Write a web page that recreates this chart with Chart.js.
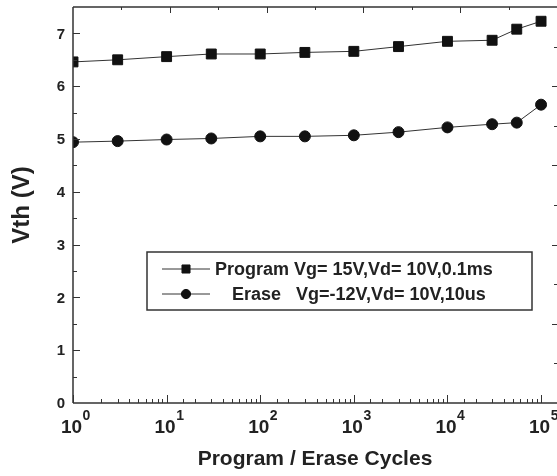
<!DOCTYPE html>
<html>
<head>
<meta charset="utf-8">
<script src="https://cdn.jsdelivr.net/npm/chart.js@4.4.1/dist/chart.umd.min.js"></script>
<style>
  html, body { margin: 0; padding: 0; background: #fff; }
  #wrap { width: 557px; height: 476px; }
</style>
</head>
<body>
<div id="wrap"><canvas id="vthChart"></canvas></div>
<script>
// DATA
const cycles = [1, 3, 10, 30, 100, 300, 1000, 3000, 10000, 30000, 55000, 100000];
const programVth = [6.46, 6.50, 6.56, 6.61, 6.61, 6.64, 6.66, 6.75, 6.85, 6.87, 7.08, 7.23];
const eraseVth = [4.94, 4.96, 4.99, 5.01, 5.05, 5.05, 5.07, 5.13, 5.22, 5.28, 5.31, 5.65];
const seriesLabels = ['Program Vg= 15V,Vd= 10V,0.1ms', 'Erase   Vg=-12V,Vd= 10V,10us'];
const yTickLabels = [0, 1, 2, 3, 4, 5, 6, 7];
const xTickExponents = [0, 1, 2, 3, 4, 5];

const FONT = "'Liberation Sans', Arial, sans-serif";
const INK = '#222';
const AXIS = '#333';

// axis frame + inward ticks + tick labels
const frameTicks = {
  id: 'frameTicks',
  afterDraw(chart) {
    const ctx = chart.ctx;
    const a = chart.chartArea;
    const x = chart.scales.x, x2 = chart.scales.x2;
    const y = chart.scales.y, y2 = chart.scales.y2;
    ctx.save();
    ctx.strokeStyle = AXIS;
    ctx.lineWidth = 1.5;
    ctx.beginPath();
    ctx.moveTo(a.left, a.top); ctx.lineTo(a.left, a.bottom);
    ctx.moveTo(a.left, a.bottom); ctx.lineTo(a.right, a.bottom);
    ctx.moveTo(a.left, a.top); ctx.lineTo(a.right, a.top);
    ctx.stroke();

    ctx.lineWidth = 1;
    ctx.beginPath();
    // bottom (log) ticks
    x.ticks.forEach(t => {
      const lg = Math.log10(t.value);
      if (t.value > x.max) return;
      const major = Math.abs(lg - Math.round(lg)) < 1e-9;
      const px = Math.round(x.getPixelForValue(t.value)) + 0.5;
      ctx.moveTo(px, a.bottom);
      ctx.lineTo(px, a.bottom - (major ? 8 : 4));
    });
    // top ticks
    for (let v = 0.5; v < x2.max; v += 0.5) {
      const major = Number.isInteger(v);
      const px = Math.round(x2.getPixelForValue(v)) + 0.5;
      ctx.moveTo(px, a.top);
      ctx.lineTo(px, a.top + (major ? 6 : 3));
    }
    // left ticks (major on labels, minor halfway)
    for (let v = 0.5; v < y.max; v += 0.5) {
      const major = Number.isInteger(v);
      const py = Math.round(y.getPixelForValue(v)) + 0.5;
      ctx.moveTo(a.left, py);
      ctx.lineTo(a.left + (major ? 7 : 4), py);
    }
    // right ticks
    for (let v = 1; v < y2.max; v++) {
      const py = Math.round(y2.getPixelForValue(v)) + 0.5;
      ctx.moveTo(a.right, py);
      ctx.lineTo(a.right - (v % 2 === 0 ? 5 : 3), py);
    }
    ctx.stroke();

    ctx.fillStyle = INK;
    // y tick labels
    ctx.font = 'bold 15px ' + FONT;
    ctx.textAlign = 'right';
    ctx.textBaseline = 'middle';
    yTickLabels.forEach(v => {
      ctx.fillText(String(v), a.left - 8, y.getPixelForValue(v) + 1);
    });
    // x tick labels 10^n
    ctx.textBaseline = 'alphabetic';
    xTickExponents.forEach(e => {
      const px = x.getPixelForValue(Math.pow(10, e));
      ctx.font = 'bold 19px ' + FONT;
      ctx.textAlign = 'center';
      ctx.fillText('10', px - 1.5, a.bottom + 30);
      const w = ctx.measureText('10').width;
      ctx.font = 'bold 14px ' + FONT;
      ctx.textAlign = 'left';
      ctx.fillText(String(e), px - 1.5 + w / 2 + 0.5, a.bottom + 17);
    });
    ctx.restore();
  }
};

// boxed legend inside the plot
const boxLegend = {
  id: 'boxLegend',
  afterDraw(chart, args, opts) {
    const ctx = chart.ctx;
    ctx.save();
    ctx.strokeStyle = AXIS;
    ctx.lineWidth = 1.5;
    ctx.strokeRect(opts.left, opts.top, opts.right - opts.left, opts.bottom - opts.top);
    chart.data.datasets.forEach((ds, i) => {
      const ry = opts.rows[i];
      ctx.strokeStyle = '#333';
      ctx.lineWidth = 1;
      ctx.beginPath();
      ctx.moveTo(opts.lineFrom, ry);
      ctx.lineTo(opts.lineTo, ry);
      ctx.stroke();
      ctx.fillStyle = '#111';
      ctx.strokeStyle = '#111';
      Chart.helpers.drawPoint(ctx, {
        pointStyle: ds.pointStyle, radius: opts.markerRadius[i], rotation: 0, borderWidth: 1
      }, opts.markerX, ry);
      ctx.fillStyle = INK;
      ctx.font = 'bold 18px ' + FONT;
      ctx.textAlign = 'left';
      ctx.textBaseline = 'middle';
      ctx.fillText(ds.label, opts.textX[i], ry + 1);
    });
    ctx.restore();
  }
};

const ctx = document.getElementById('vthChart').getContext('2d');
const vthChart = new Chart(ctx, {
  type: 'line',
  data: {
    datasets: [{
      label: seriesLabels[0],
      data: cycles.map((c, i) => ({ x: c, y: programVth[i] })),
      borderColor: '#333',
      borderWidth: 1,
      pointStyle: 'rect',
      pointRadius: 7,
      pointBackgroundColor: '#111',
      pointBorderColor: '#111',
      pointBorderWidth: 1,
      tension: 0
    }, {
      label: seriesLabels[1],
      data: cycles.map((c, i) => ({ x: c, y: eraseVth[i] })),
      borderColor: '#333',
      borderWidth: 1,
      pointStyle: 'circle',
      pointRadius: 5.5,
      pointBackgroundColor: '#111',
      pointBorderColor: '#111',
      pointBorderWidth: 1,
      tension: 0
    }]
  },
  options: {
    responsive: true,
    maintainAspectRatio: false,
    animation: false,
    events: [],
    layout: { autoPadding: false, padding: { top: 7, right: 0, bottom: 0, left: 0 } },
    plugins: {
      legend: { display: false },
      tooltip: { enabled: false },
      boxLegend: {
        left: 147, right: 532, top: 252, bottom: 310,
        rows: [269, 294],
        lineFrom: 162, lineTo: 210, markerX: 186,
        markerRadius: [5.7, 4.6],
        textX: [215, 232]
      }
    },
    scales: {
      x: {
        type: 'logarithmic',
        position: 'bottom',
        min: 1,
        max: 148000,
        ticks: { display: false },
        grid: { display: false, drawTicks: false },
        border: { display: false },
        title: {
          display: true,
          text: 'Program / Erase Cycles',
          color: INK,
          font: { family: FONT, size: 21, weight: 'bold' },
          padding: { top: 0, bottom: 4 }
        },
        afterFit: s => { s.height = 73; }
      },
      x2: {
        type: 'linear',
        position: 'top',
        min: 0,
        max: 5,
        display: false,
        afterFit: s => { s.height = 0; }
      },
      y: {
        type: 'linear',
        position: 'left',
        min: 0,
        max: 7.5,
        ticks: { display: false, stepSize: 1 },
        grid: { display: false, drawTicks: false },
        border: { display: false },
        title: {
          display: true,
          text: 'Vth (V)',
          color: INK,
          font: { family: FONT, size: 24, weight: 'bold' },
          padding: { top: 8, bottom: 0 }
        },
        afterFit: s => { s.width = 73; }
      },
      y2: {
        type: 'linear',
        position: 'right',
        min: 0,
        max: 10,
        display: false,
        afterFit: s => { s.width = 0; }
      }
    }
  },
  plugins: [frameTicks, boxLegend]
});
</script>
</body>
</html>
